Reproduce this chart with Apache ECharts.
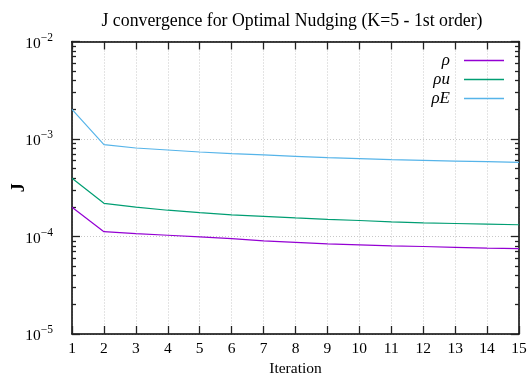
<!DOCTYPE html>
<html>
<head>
<meta charset="utf-8">
<script src="https://cdn.jsdelivr.net/npm/echarts@6/dist/echarts.min.js"></script>
<style>html,body{margin:0;padding:0;background:#fff}#c{width:529px;height:374px}</style>
</head>
<body>
<div id="c"></div>
<script>
const iterations = [1,2,3,4,5,6,7,8,9,10,11,12,13,14,15];
const rho  = [2.0e-4,1.12e-4,1.07e-4,1.03e-4,9.9e-5,9.5e-5,9.0e-5,8.7e-5,8.4e-5,8.2e-5,8.0e-5,7.9e-5,7.75e-5,7.6e-5,7.5e-5];
const rhoU = [3.95e-4,2.19e-4,2.0e-4,1.86e-4,1.76e-4,1.67e-4,1.61e-4,1.55e-4,1.50e-4,1.46e-4,1.41e-4,1.38e-4,1.36e-4,1.34e-4,1.32e-4];
const rhoE = [2.01e-3,8.74e-4,8.09e-4,7.71e-4,7.36e-4,7.08e-4,6.86e-4,6.64e-4,6.44e-4,6.28e-4,6.14e-4,6.04e-4,5.94e-4,5.85e-4,5.76e-4];
const seriesNames = ['ρ','ρu','ρE'];
const xTicks = [1,2,3,4,5,6,7,8,9,10,11,12,13,14,15];
const yMajorTicks = [1e-5,1e-4,1e-3,1e-2];
const yMinorTicks = [];
[1e-5,1e-4,1e-3].forEach(d => { for (let k = 2; k <= 9; k++) yMinorTicks.push(+(d*k).toPrecision(3)); });

const FONT = '"Liberation Serif", "DejaVu Serif", serif';
const colors = ['#9400d3','#009e73','#56b4e9'];
const gridLine = {show:true, lineStyle:{color:'#c8c8c8', type:[1,2], width:1}};
const tickStyle = {color:'#222', width:1.3};

function pair(arr){ return arr.map((v,i)=>[iterations[i], v]); }
const lg = v => Math.log10(v);

const chart = echarts.init(document.getElementById('c'), null, {renderer:'canvas'});
// helper axes in log10 space, used only to place tick marks
function tickAxis(pos, values, len){
  return {type:'value', min:lg(yMajorTicks[0]), max:lg(yMajorTicks[yMajorTicks.length-1]), position:pos,
    axisLine:{show:false}, axisLabel:{show:false}, splitLine:{show:false},
    axisTick:{show:true, inside:true, length:len, customValues:values.map(lg), lineStyle:tickStyle}};
}
chart.setOption({
  animation:false,
  backgroundColor:'#fff',
  textStyle:{fontFamily:FONT},
  title:{text:'J convergence for Optimal Nudging (K=5 - 1st order)', left:287, textAlign:'center', top:7,
    textStyle:{fontFamily:FONT, fontSize:17.8, fontWeight:'normal', color:'#000'}},
  grid:{left:72, right:10, top:41.5, bottom:40, containLabel:false, outerBoundsMode:'none'},
  legend:{orient:'vertical', right:20, top:47, align:'right', itemGap:2, itemWidth:40, itemHeight:1.5, icon:'rect',
    textStyle:{fontFamily:FONT, fontSize:17, fontStyle:'italic', color:'#000', padding:[0,9,0,0]},
    data:seriesNames},
  xAxis:[
    {type:'value', min:1, max:15, interval:1, position:'bottom',
     axisLine:{show:true, lineStyle:{color:'#000', width:1.5}},
     axisTick:{show:true, inside:true, length:8, customValues:xTicks, lineStyle:tickStyle},
     axisLabel:{show:true, customValues:xTicks, margin:7, fontFamily:FONT, fontSize:15.5, color:'#000'},
     splitLine:gridLine,
     name:'Iteration', nameLocation:'middle', nameGap:27, nameMoveOverlap:false,
     nameTextStyle:{fontFamily:FONT, fontSize:15.5, color:'#000'}},
    {type:'value', min:1, max:15, interval:1, position:'top',
     axisLine:{show:true, lineStyle:{color:'#000', width:1.5}},
     axisTick:{show:true, inside:true, length:8, customValues:xTicks, lineStyle:tickStyle},
     axisLabel:{show:false}, splitLine:{show:false}}
  ],
  yAxis:[
    {type:'log', logBase:10, min:1e-5, max:1e-2, position:'left',
      axisLine:{show:true, lineStyle:{color:'#000', width:1.5}},
      axisTick:{show:false},
      axisLabel:{show:true, customValues:yMajorTicks, margin:19,
        formatter:function(v){ const e = Math.round(Math.log10(v)); return '{b|10}{s|\u2212' + Math.abs(e) + '}'; },
        rich:{b:{fontFamily:FONT, fontSize:15.5, color:'#000', verticalAlign:'bottom', lineHeight:20},
              s:{fontFamily:FONT, fontSize:11.5, color:'#000', verticalAlign:'top', lineHeight:20}}},
      splitLine:{show:true, lineStyle:{color:'#c8c8c8', type:[1,2], width:1}},
      name:'J', nameLocation:'middle', nameGap:44, nameRotate:90, nameMoveOverlap:false,
      nameTextStyle:{fontFamily:FONT, fontSize:18, fontWeight:'bold', color:'#000'}},
    {type:'log', logBase:10, min:1e-5, max:1e-2, position:'right',
      axisLine:{show:true, lineStyle:{color:'#000', width:1.5}},
      axisTick:{show:false}, axisLabel:{show:false}, splitLine:{show:false}},
    tickAxis('left', yMajorTicks, 8),
    tickAxis('right', yMajorTicks, 8),
    tickAxis('left', yMinorTicks, 4),
    tickAxis('right', yMinorTicks, 4)
  ],
  series:[rho, rhoU, rhoE].map((d,i)=>({
    name:seriesNames[i], type:'line', xAxisIndex:0, yAxisIndex:0, data:pair(d),
    showSymbol:false, symbol:'none', color:colors[i], lineStyle:{width:1.2, color:colors[i]}, itemStyle:{color:colors[i]}
  }))
});
</script>
</body>
</html>
